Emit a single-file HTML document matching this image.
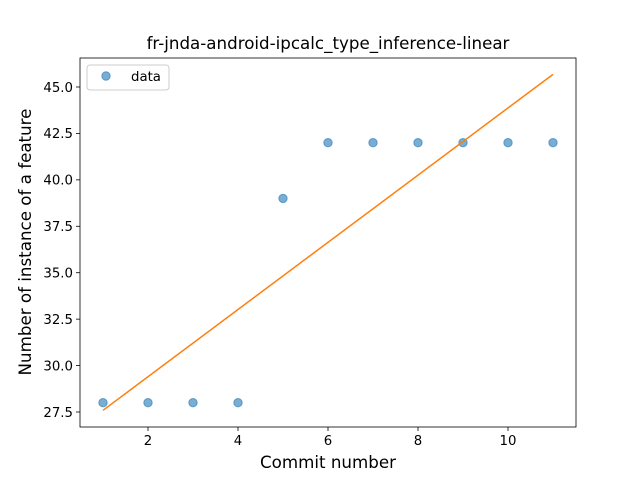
<!DOCTYPE html>
<html><head><meta charset="utf-8"><style>
body{margin:0;background:#fff}
svg{display:block;font-family:"DejaVu Sans","Liberation Sans",sans-serif}
</style></head><body>
<svg id="chart" width="640" height="480">
<rect width="640" height="480" fill="#fff"/>
</svg>
<script>
const commits=[1,2,3,4,5,6,7,8,9,10,11];
const counts=[28,28,28,28,39,42,42,42,42,42,42];
const xTicks=[2,4,6,8,10];
const yTicks=[27.5,30.0,32.5,35.0,37.5,40.0,42.5,45.0];
const yTickLabels=["27.5","30.0","32.5","35.0","37.5","40.0","42.5","45.0"];

const L=80,R=576,T=58,B=427;
function sx(v){return 103+(v-1)*45;}
function sy(v){return 412-(v-27.5)*(325/17.5);}
const svg=document.getElementById('chart');
const NS='http://www.w3.org/2000/svg';
function mk(tag,attrs,parent){const e=document.createElementNS(NS,tag);for(const k in attrs)e.setAttribute(k,attrs[k]);(parent||svg).appendChild(e);return e;}

let t=mk('text',{x:328,y:49,'text-anchor':'middle','font-size':16.7,fill:'#000'});
t.textContent='fr-jnda-android-ipcalc_type_inference-linear';



xTicks.forEach(v=>{
  const g=mk('g',{});
  
  
  mk('line',{x1:sx(v),x2:sx(v),y1:B,y2:B+4,stroke:'#000','stroke-width':0.8},g);
  const tx=mk('text',{x:sx(v),y:B+18,'text-anchor':'middle','font-size':13.3},g);
  tx.textContent=v;
});
yTicks.forEach((v,i)=>{
  const g=mk('g',{});
  
  
  mk('line',{x1:L-4,x2:L,y1:sy(v),y2:sy(v),stroke:'#000','stroke-width':0.8},g);
  const tx=mk('text',{x:L-7,y:sy(v)+4.8,'text-anchor':'end','font-size':13.3},g);
  tx.textContent=yTickLabels[i];
});

let xl=mk('text',{x:328,y:468,'text-anchor':'middle','font-size':16.7});
xl.textContent='Commit number';


let yl=mk('text',{x:0,y:0,'text-anchor':'middle','font-size':16.7,transform:'translate(31,242) rotate(-90)'});
yl.textContent='Number of instance of a feature';



commits.forEach((c,i)=>{
  const p=mk('circle',{cx:sx(c),cy:sy(counts[i]),r:4.2,fill:'#1f77b4','fill-opacity':0.6,stroke:'#1f77b4','stroke-opacity':0.6});
  
  
});

const n=commits.length;
const mx=commits.reduce((a,b)=>a+b,0)/n, my=counts.reduce((a,b)=>a+b,0)/n;
let sxy=0,sxx=0;commits.forEach((c,i)=>{sxy+=(c-mx)*(counts[i]-my);sxx+=(c-mx)*(c-mx);});
const slope=sxy/sxx, icpt=my-slope*mx;
const x0=commits[0],x1=commits[n-1];
const ln=mk('line',{x1:sx(x0),y1:sy(icpt+slope*x0),x2:sx(x1),y2:sy(icpt+slope*x1),stroke:'#ff7f0e','stroke-width':1.5});



const fr=mk('rect',{x:L,y:T,width:R-L,height:B-T,fill:'none',stroke:'#000','stroke-width':0.8});



const lg=mk('g',{});


mk('rect',{x:87,y:65,width:82,height:25,rx:3,fill:'#fff','fill-opacity':0.8,stroke:'#ccc','stroke-width':1},lg);
mk('circle',{cx:106,cy:76,r:4.2,fill:'#1f77b4','fill-opacity':0.6,stroke:'#1f77b4','stroke-opacity':0.6},lg);
const lt=mk('text',{x:131,y:81,'font-size':13.3},lg);
lt.textContent='data';


</script>
</body></html>
